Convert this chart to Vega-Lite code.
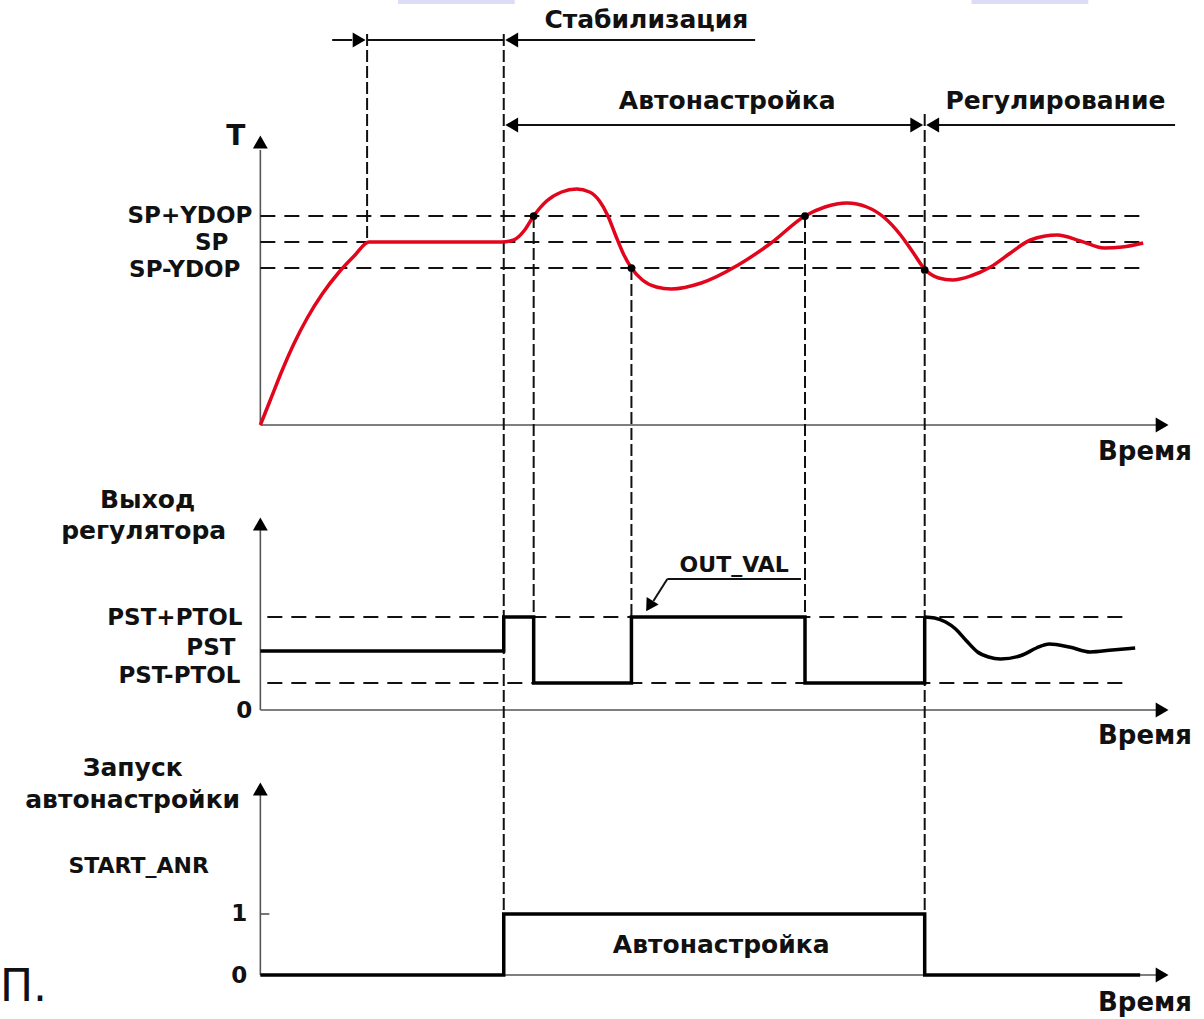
{
  "$schema": "https://vega.github.io/schema/vega-lite/v6.json",
  "width": 1204,
  "height": 1019,
  "padding": 0,
  "autosize": {"type": "fit", "contains": "padding"},
  "background": "white",
  "config": {"view": {"stroke": null}},
  "datasets": {
    "bands": [
      {"x": 396, "x2": 513, "y": 0, "y2": 4},
      {"x": 971, "x2": 1088, "y": 0, "y2": 4}
    ],
    "rules": [
      {"k": "axis", "x": 258, "y": 425, "x2": 258, "y2": 150},
      {"k": "axis", "x": 258, "y": 425, "x2": 1156, "y2": 425},
      {"k": "axis", "x": 258, "y": 710, "x2": 258, "y2": 530},
      {"k": "axis", "x": 258, "y": 710, "x2": 1156, "y2": 710},
      {"k": "axis", "x": 258, "y": 975, "x2": 258, "y2": 795},
      {"k": "axis", "x": 258, "y": 975, "x2": 1156, "y2": 975},
      {"k": "axis", "x": 258, "y": 914, "x2": 267, "y2": 914},
      {"k": "solid", "x": 330, "y": 40, "x2": 350, "y2": 40},
      {"k": "solid", "x": 365, "y": 40, "x2": 502, "y2": 40},
      {"k": "solid", "x": 510, "y": 40, "x2": 754, "y2": 40},
      {"k": "solid", "x": 510, "y": 125, "x2": 914, "y2": 125},
      {"k": "solid", "x": 934, "y": 125, "x2": 1175, "y2": 125},
      {"k": "solid", "x": 666, "y": 579, "x2": 800, "y2": 579},
      {"k": "solid", "x": 666, "y": 579, "x2": 652, "y2": 601},
      {"k": "dashH", "x": 258, "y": 216, "x2": 1140, "y2": 216},
      {"k": "dashH", "x": 258, "y": 242, "x2": 1140, "y2": 242},
      {"k": "dashH", "x": 258, "y": 268, "x2": 1140, "y2": 268},
      {"k": "dashH", "x": 265, "y": 617, "x2": 1130, "y2": 617},
      {"k": "dashH", "x": 265, "y": 683, "x2": 1130, "y2": 683},
      {"k": "dashV", "x": 365, "y": 34, "x2": 365, "y2": 242},
      {"k": "dashV", "x": 502, "y": 34, "x2": 502, "y2": 914},
      {"k": "dashV", "x": 532, "y": 216, "x2": 532, "y2": 617},
      {"k": "dashV", "x": 630, "y": 268, "x2": 630, "y2": 617},
      {"k": "dashV", "x": 804, "y": 216, "x2": 804, "y2": 617},
      {"k": "dashV", "x": 924, "y": 114, "x2": 924, "y2": 914}
    ],
    "temp": [
      {"i": 0, "x": 258, "y": 425},
      {"i": 1, "x": 268, "y": 400},
      {"i": 2, "x": 280, "y": 370},
      {"i": 3, "x": 292, "y": 343},
      {"i": 4, "x": 305, "y": 318},
      {"i": 5, "x": 320, "y": 294},
      {"i": 6, "x": 337, "y": 272},
      {"i": 7, "x": 352, "y": 256},
      {"i": 8, "x": 367, "y": 242},
      {"i": 9, "x": 500, "y": 242},
      {"i": 10, "x": 512, "y": 240},
      {"i": 11, "x": 523, "y": 230},
      {"i": 12, "x": 532, "y": 216},
      {"i": 13, "x": 545, "y": 201},
      {"i": 14, "x": 560, "y": 192},
      {"i": 15, "x": 575, "y": 189},
      {"i": 16, "x": 588, "y": 192},
      {"i": 17, "x": 598, "y": 201},
      {"i": 18, "x": 606, "y": 215},
      {"i": 19, "x": 614, "y": 235},
      {"i": 20, "x": 622, "y": 254},
      {"i": 21, "x": 630, "y": 268},
      {"i": 22, "x": 641, "y": 280},
      {"i": 23, "x": 655, "y": 287},
      {"i": 24, "x": 670, "y": 289},
      {"i": 25, "x": 700, "y": 283},
      {"i": 26, "x": 737, "y": 265},
      {"i": 27, "x": 770, "y": 243},
      {"i": 28, "x": 804, "y": 216},
      {"i": 29, "x": 824, "y": 207},
      {"i": 30, "x": 846, "y": 203},
      {"i": 31, "x": 866, "y": 207},
      {"i": 32, "x": 884, "y": 218},
      {"i": 33, "x": 899, "y": 234},
      {"i": 34, "x": 912, "y": 252},
      {"i": 35, "x": 924, "y": 269},
      {"i": 36, "x": 938, "y": 278},
      {"i": 37, "x": 952, "y": 280},
      {"i": 38, "x": 970, "y": 276},
      {"i": 39, "x": 990, "y": 267},
      {"i": 40, "x": 1010, "y": 253},
      {"i": 41, "x": 1030, "y": 240},
      {"i": 42, "x": 1057, "y": 235},
      {"i": 43, "x": 1080, "y": 241},
      {"i": 44, "x": 1104, "y": 248},
      {"i": 45, "x": 1122, "y": 247},
      {"i": 46, "x": 1143, "y": 243}
    ],
    "outstep": [
      {"i": 0, "x": 258, "y": 651},
      {"i": 1, "x": 502, "y": 651},
      {"i": 2, "x": 502, "y": 617},
      {"i": 3, "x": 532, "y": 617},
      {"i": 4, "x": 532, "y": 683},
      {"i": 5, "x": 630, "y": 683},
      {"i": 6, "x": 630, "y": 617},
      {"i": 7, "x": 804, "y": 617},
      {"i": 8, "x": 804, "y": 683},
      {"i": 9, "x": 924, "y": 683},
      {"i": 10, "x": 924, "y": 617}
    ],
    "outcurve": [
      {"i": 0, "x": 924, "y": 617},
      {"i": 1, "x": 934, "y": 618},
      {"i": 2, "x": 945, "y": 622},
      {"i": 3, "x": 955, "y": 629},
      {"i": 4, "x": 966, "y": 641},
      {"i": 5, "x": 977, "y": 652},
      {"i": 6, "x": 988, "y": 657},
      {"i": 7, "x": 1000, "y": 659},
      {"i": 8, "x": 1022, "y": 655},
      {"i": 9, "x": 1036, "y": 648},
      {"i": 10, "x": 1049, "y": 644},
      {"i": 11, "x": 1069, "y": 647},
      {"i": 12, "x": 1090, "y": 652},
      {"i": 13, "x": 1112, "y": 650},
      {"i": 14, "x": 1135, "y": 648}
    ],
    "start": [
      {"i": 0, "x": 258, "y": 975},
      {"i": 1, "x": 502, "y": 975},
      {"i": 2, "x": 502, "y": 914},
      {"i": 3, "x": 924, "y": 914},
      {"i": 4, "x": 924, "y": 975},
      {"i": 5, "x": 1140, "y": 975}
    ],
    "dots": [
      {"x": 532, "y": 216},
      {"x": 630, "y": 268},
      {"x": 804, "y": 216},
      {"x": 924, "y": 270}
    ],
    "arrows": [
      {"dir": "right", "x": 357, "y": 40},
      {"dir": "left", "x": 510, "y": 40},
      {"dir": "left", "x": 510, "y": 125},
      {"dir": "right", "x": 916, "y": 125},
      {"dir": "left", "x": 932, "y": 125},
      {"dir": "right", "x": 1162, "y": 425},
      {"dir": "right", "x": 1162, "y": 710},
      {"dir": "right", "x": 1162, "y": 975},
      {"dir": "up", "x": 258, "y": 142},
      {"dir": "up", "x": 258, "y": 524},
      {"dir": "up", "x": 258, "y": 789}
    ],
    "outarrow": [
      {"x": 648, "y": 606}
    ],
    "labels": [
      {"role": "title", "x": 645, "y": 20, "text": "Стабилизация"},
      {"role": "title", "x": 726, "y": 101, "text": "Автонастройка"},
      {"role": "title", "x": 1055, "y": 101, "text": "Регулирование"},
      {"role": "title", "x": 720, "y": 945, "text": "Автонастройка"},
      {"role": "title", "x": 145, "y": 500, "text": "Выход"},
      {"role": "title", "x": 141, "y": 531, "text": "регулятора"},
      {"role": "title", "x": 130, "y": 768, "text": "Запуск"},
      {"role": "title", "x": 130, "y": 800, "text": "автонастройки"},
      {"role": "level", "x": 250, "y": 216, "text": "SP+YDOP"},
      {"role": "level", "x": 226, "y": 243, "text": "SP"},
      {"role": "level", "x": 238, "y": 270, "text": "SP-YDOP"},
      {"role": "level", "x": 240, "y": 618, "text": "PST+PTOL"},
      {"role": "level", "x": 233, "y": 648, "text": "PST"},
      {"role": "level", "x": 238, "y": 676, "text": "PST-PTOL"},
      {"role": "level", "x": 250, "y": 711, "text": "0"},
      {"role": "level", "x": 245, "y": 914, "text": "1"},
      {"role": "level", "x": 245, "y": 976, "text": "0"},
      {"role": "big", "x": 243, "y": 137, "text": "T"},
      {"role": "time", "x": 1192, "y": 452, "text": "Время"},
      {"role": "time", "x": 1192, "y": 736, "text": "Время"},
      {"role": "time", "x": 1192, "y": 1003, "text": "Время"},
      {"role": "small", "x": 136, "y": 866, "text": "START_ANR"},
      {"role": "small", "x": 733, "y": 565, "text": "OUT_VAL"},
      {"role": "glyph", "x": -3, "y": 988, "text": "П."}
    ]
  },
  "encoding": {
    "x": {"field": "x", "type": "quantitative", "scale": {"domain": [0, 1204], "nice": false, "zero": false}, "axis": null},
    "y": {"field": "y", "type": "quantitative", "scale": {"domain": [0, 1019], "nice": false, "zero": false, "reverse": true}, "axis": null}
  },
  "layer": [
    {
      "data": {"name": "bands"},
      "mark": {"type": "rect", "color": "#dcdcf7"},
      "encoding": {"x2": {"field": "x2"}, "y2": {"field": "y2"}}
    },
    {
      "data": {"name": "rules"},
      "transform": [{"filter": "datum.k === 'axis'"}],
      "mark": {"type": "rule", "color": "#555555", "strokeWidth": 1.6},
      "encoding": {"x2": {"field": "x2"}, "y2": {"field": "y2"}}
    },
    {
      "data": {"name": "rules"},
      "transform": [{"filter": "datum.k === 'dashH'"}],
      "mark": {"type": "rule", "color": "#111111", "strokeWidth": 1.9, "strokeDash": [15, 9]},
      "encoding": {"x2": {"field": "x2"}, "y2": {"field": "y2"}}
    },
    {
      "data": {"name": "rules"},
      "transform": [{"filter": "datum.k === 'dashV'"}],
      "mark": {"type": "rule", "color": "#111111", "strokeWidth": 2, "strokeDash": [12, 4]},
      "encoding": {"x2": {"field": "x2"}, "y2": {"field": "y2"}}
    },
    {
      "data": {"name": "rules"},
      "transform": [{"filter": "datum.k === 'solid'"}],
      "mark": {"type": "rule", "color": "#111111", "strokeWidth": 2},
      "encoding": {"x2": {"field": "x2"}, "y2": {"field": "y2"}}
    },
    {
      "data": {"name": "temp"},
      "mark": {"type": "line", "color": "#e2061c", "strokeWidth": 3.5, "interpolate": "monotone"},
      "encoding": {"order": {"field": "i", "type": "quantitative"}}
    },
    {
      "data": {"name": "outstep"},
      "mark": {"type": "line", "color": "#000000", "strokeWidth": 3.5, "strokeJoin": "miter"},
      "encoding": {"order": {"field": "i", "type": "quantitative"}}
    },
    {
      "data": {"name": "outcurve"},
      "mark": {"type": "line", "color": "#000000", "strokeWidth": 3.5, "interpolate": "monotone"},
      "encoding": {"order": {"field": "i", "type": "quantitative"}}
    },
    {
      "data": {"name": "start"},
      "mark": {"type": "line", "color": "#000000", "strokeWidth": 3.5, "strokeJoin": "miter"},
      "encoding": {"order": {"field": "i", "type": "quantitative"}}
    },
    {
      "data": {"name": "dots"},
      "mark": {"type": "point", "filled": true, "color": "#000000", "size": 60, "opacity": 1}
    },
    {
      "data": {"name": "arrows"},
      "mark": {"type": "point", "filled": true, "color": "#000000", "size": 220, "opacity": 1},
      "encoding": {
        "shape": {"field": "dir", "type": "nominal", "scale": {"domain": ["right", "left", "up"], "range": ["triangle-right", "triangle-left", "triangle-up"]}, "legend": null}
      }
    },
    {
      "data": {"name": "outarrow"},
      "mark": {"type": "point", "filled": true, "color": "#000000", "size": 200, "opacity": 1, "shape": "triangle-up", "angle": 212}
    },
    {
      "data": {"name": "labels"},
      "transform": [{"filter": "datum.role === 'title'"}],
      "mark": {"type": "text", "align": "center", "baseline": "middle", "font": "DejaVu Sans", "fontWeight": "bold", "fontSize": 25, "color": "#111111"},
      "encoding": {"text": {"field": "text"}}
    },
    {
      "data": {"name": "labels"},
      "transform": [{"filter": "datum.role === 'level'"}],
      "mark": {"type": "text", "align": "right", "baseline": "middle", "font": "DejaVu Sans", "fontWeight": "bold", "fontSize": 23, "color": "#111111"},
      "encoding": {"text": {"field": "text"}}
    },
    {
      "data": {"name": "labels"},
      "transform": [{"filter": "datum.role === 'big'"}],
      "mark": {"type": "text", "align": "right", "baseline": "middle", "font": "DejaVu Sans", "fontWeight": "bold", "fontSize": 28, "color": "#111111"},
      "encoding": {"text": {"field": "text"}}
    },
    {
      "data": {"name": "labels"},
      "transform": [{"filter": "datum.role === 'time'"}],
      "mark": {"type": "text", "align": "right", "baseline": "middle", "font": "DejaVu Sans", "fontWeight": "bold", "fontSize": 26, "color": "#111111"},
      "encoding": {"text": {"field": "text"}}
    },
    {
      "data": {"name": "labels"},
      "transform": [{"filter": "datum.role === 'small'"}],
      "mark": {"type": "text", "align": "center", "baseline": "middle", "font": "DejaVu Sans", "fontWeight": "bold", "fontSize": 22, "color": "#111111"},
      "encoding": {"text": {"field": "text"}}
    },
    {
      "data": {"name": "labels"},
      "transform": [{"filter": "datum.role === 'glyph'"}],
      "mark": {"type": "text", "align": "left", "baseline": "middle", "font": "DejaVu Sans", "fontWeight": "normal", "fontSize": 44, "color": "#111111"},
      "encoding": {"text": {"field": "text"}}
    }
  ]
}
